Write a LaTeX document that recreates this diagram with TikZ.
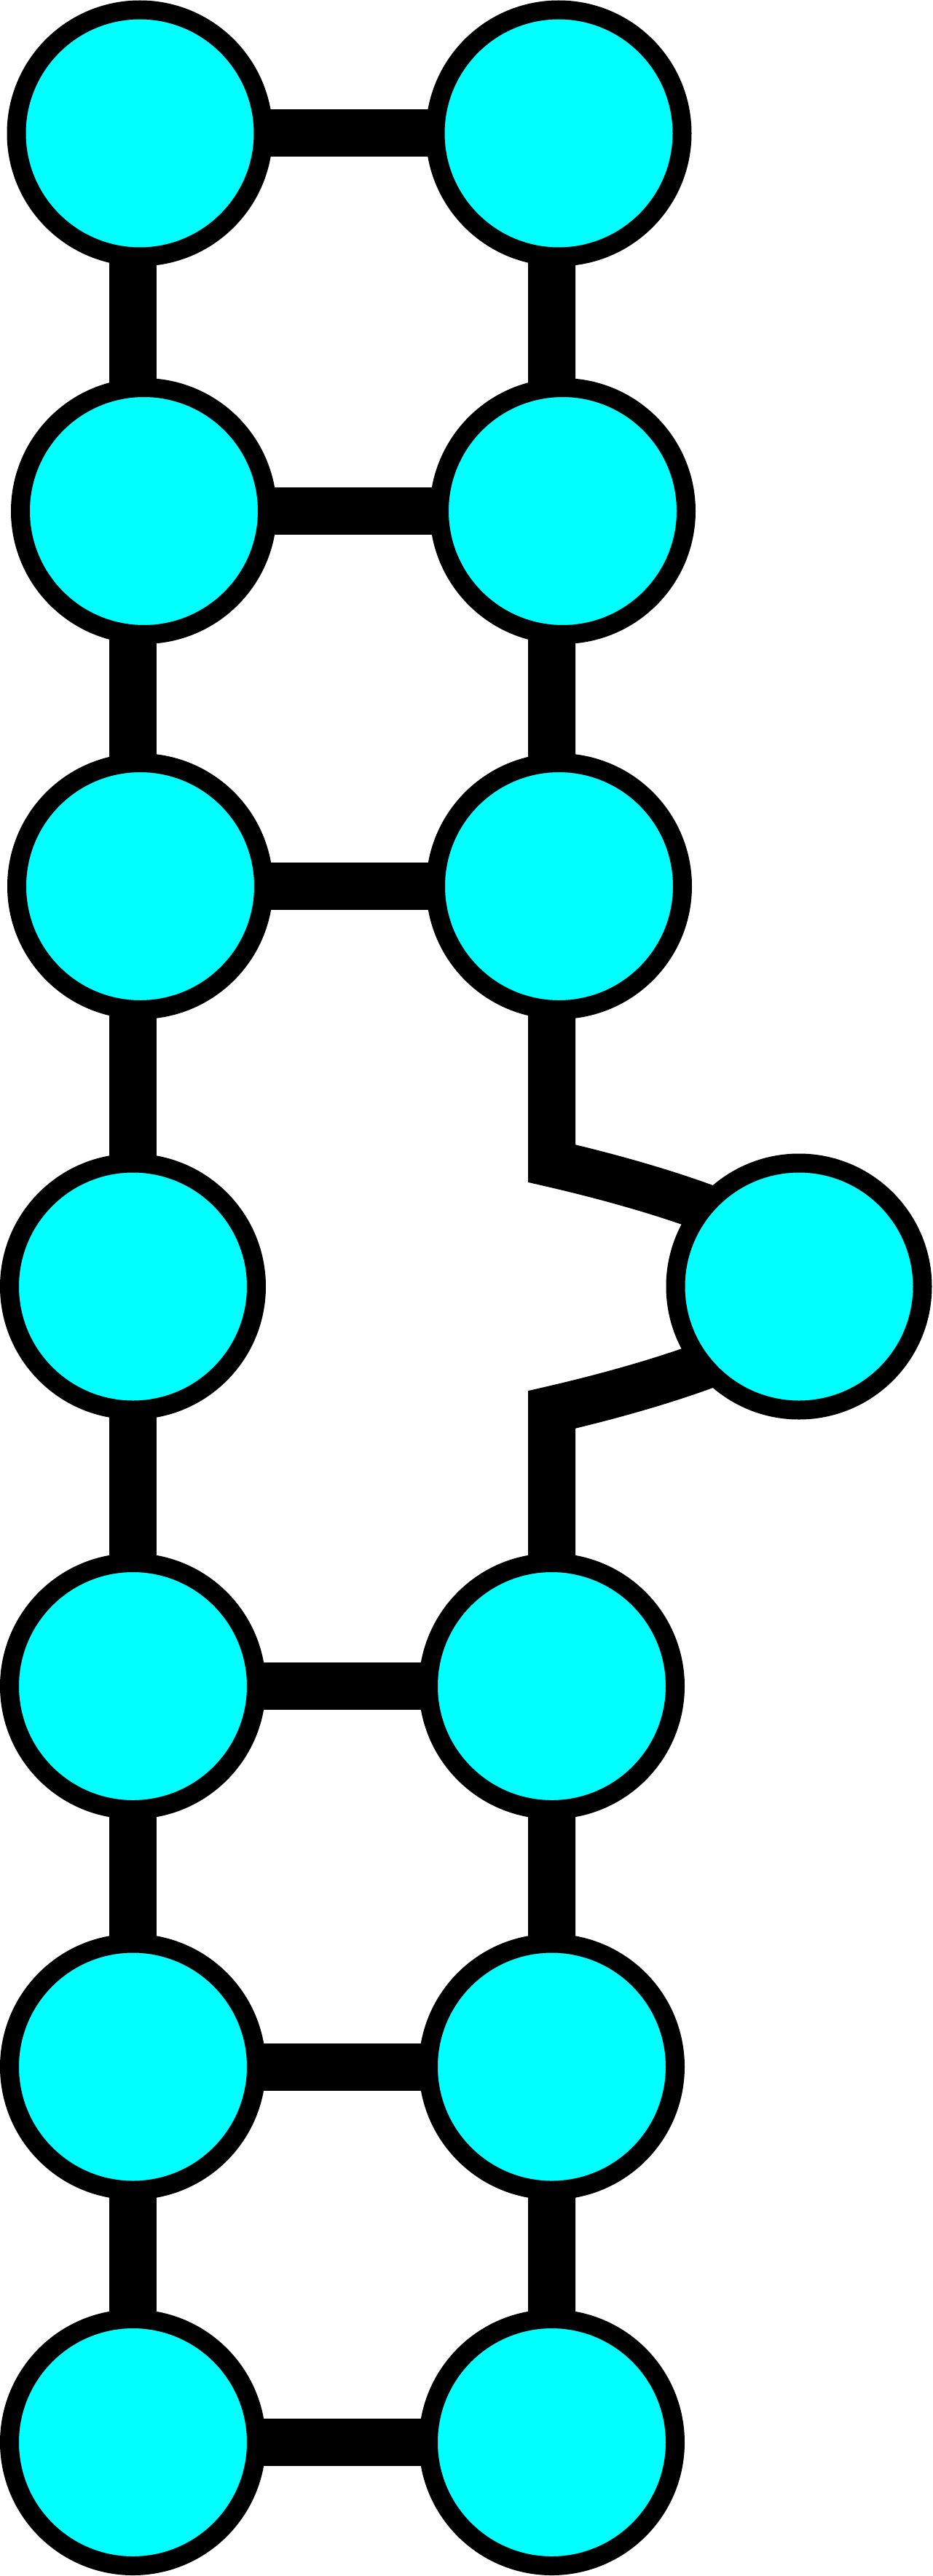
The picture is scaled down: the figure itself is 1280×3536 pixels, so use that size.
\documentclass[tikz,border=0pt]{standalone}
\usetikzlibrary{backgrounds}
\definecolor{basecyan}{RGB}{0,255,255}
\tikzstyle{base} = [draw, circle, fill=basecyan, line width=2.6mm, minimum size=33.9mm, inner sep=0pt]
\tikzstyle{bond} = [draw, line width=6.5mm]

\begin{document}
\begin{tikzpicture}[x=0.1mm, y=-0.1mm]
    \useasboundingbox (0,0) rectangle (1280,3536);
    % left strand
    \node [base] (a1) at (192,183) {};
    \node [base] (a2) at (197.5,701.5) {};
    \node [base] (a3) at (192.5,1216.5) {};
    \node [base] (a4) at (182.5,1766) {};
    \node [base] (a5) at (182.5,2314.5) {};
    \node [base] (a6) at (182.5,2837) {};
    \node [base] (a7) at (182.5,3352.5) {};
    % right strand
    \node [base] (b1) at (767,183) {};
    \node [base] (b2) at (772.5,701.5) {};
    \node [base] (b3) at (767.5,1216.5) {};
    \node [base] (b4) at (1097,1766) {};
    \node [base] (b5) at (757.5,2314.5) {};
    \node [base] (b6) at (757.5,2837) {};
    \node [base] (b7) at (757.5,3352.5) {};
    % backbone columns and bends
    \coordinate (ls) at (182.5,0);
    \coordinate (rs) at (757.5,0);
    \coordinate (k1) at (757.5,1597);
    \coordinate (k2) at (1000,1670);
    \coordinate (k3) at (1000,1862);
    \coordinate (k4) at (757.5,1935);
    \begin{pgfonlayer}{background}
    \path [bond] (a1.center) -- (b1.center);
    \path [bond] (a2.center) -- (b2.center);
    \path [bond] (a3.center) -- (b3.center);
    \path [bond] (a5.center) -- (b5.center);
    \path [bond] (a6.center) -- (b6.center);
    \path [bond] (a7.center) -- (b7.center);
    \path [bond] (ls |- a1) -- (ls |- a7);
    \path [bond] (rs |- b1) -- (k1) .. controls +(78,18) and +(-74,-30) .. (k2) -- (b4.center)
        -- (k3) .. controls +(-74,30) and +(78,-18) .. (k4) -- (rs |- b7);
    \end{pgfonlayer}
\end{tikzpicture}
\end{document}
